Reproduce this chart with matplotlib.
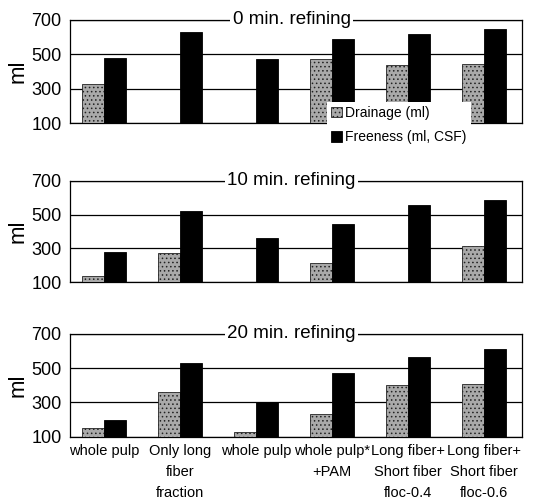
import matplotlib
matplotlib.use("Agg")
import matplotlib.pyplot as plt
import numpy as np

categories = ["whole pulp", "Only long\nfiber\nfraction", "whole pulp", "whole pulp*\n+PAM",
              "Long fiber+\nShort fiber\nfloc-0.4", "Long fiber+\nShort fiber\nfloc-0.6"]
titles = ["0 min. refining", "10 min. refining", "20 min. refining"]
drainage = [
    [330, 0, 0, 470, 440, 445],
    [140, 275, 0, 215, 0, 315],
    [150, 360, 130, 230, 400, 405],
]
freeness = [
    [480, 630, 470, 590, 620, 650],
    [280, 520, 360, 445, 555, 585],
    [200, 530, 300, 475, 565, 610],
]
yticks = [100, 300, 500, 700]

plt.rcParams["font.family"] = ["Liberation Sans", "DejaVu Sans"]
plt.rcParams["hatch.color"] = "#555555"
plt.rcParams["hatch.linewidth"] = 0.6

fig = plt.figure(figsize=(5.39, 5.0), dpi=100)
tops = [0.960, 0.6386, 0.332]
bottoms = [0.754, 0.4354, 0.1266]
left, width = 0.13, 0.8386
x = np.arange(len(categories))
w = 0.29
handles = None
for k in range(3):
    ax = fig.add_axes([left, bottoms[k], width, tops[k] - bottoms[k]])
    b1 = ax.bar(x - w / 2, drainage[k], w, color="#a9a9a9", hatch="....", edgecolor="#222222", linewidth=0.6, zorder=3)
    b2 = ax.bar(x + w / 2, freeness[k], w, color="black", edgecolor="black", linewidth=0.6, zorder=3)
    if handles is None:
        handles = (b1, b2)
    ax.set_ylim(100, 700)
    ax.set_xlim(-0.45, 5.5)
    ax.set_yticks(yticks)
    ax.set_yticklabels([str(v) for v in yticks], fontsize=13)
    ax.tick_params(axis="y", length=0, pad=6)
    ax.yaxis.grid(True, color="black", linewidth=0.9, zorder=0)
    ax.set_axisbelow(True)
    for s in ax.spines.values():
        s.set_linewidth(0.9)
    ax.set_ylabel("ml", fontsize=16, labelpad=2)
    ax.text(0.49, 1.0, titles[k], transform=ax.transAxes, ha="center", va="center", fontsize=13.5,
            bbox=dict(facecolor="white", edgecolor="none", pad=1.5), zorder=5)
    if k == 2:
        ax.set_xticks(x)
        ax.set_xticklabels(categories, fontsize=10.5, linespacing=1.65)
        ax.tick_params(axis="x", length=0, pad=5)
    else:
        ax.set_xticks([])

leg = fig.legend(handles, ["Drainage (ml)", "Freeness (ml, CSF)"], loc="upper left",
                 bbox_to_anchor=(0.607, 0.797), frameon=True, fancybox=False,
                 prop={"size": 10},
                 handlelength=0.8, handleheight=0.8, handletextpad=0.2,
                 borderpad=0.3, labelspacing=0.75, borderaxespad=0)
leg.get_frame().set_facecolor("white")
leg.get_frame().set_edgecolor("none")
leg.get_frame().set_alpha(1)
fig.savefig("out.png", dpi=100)
